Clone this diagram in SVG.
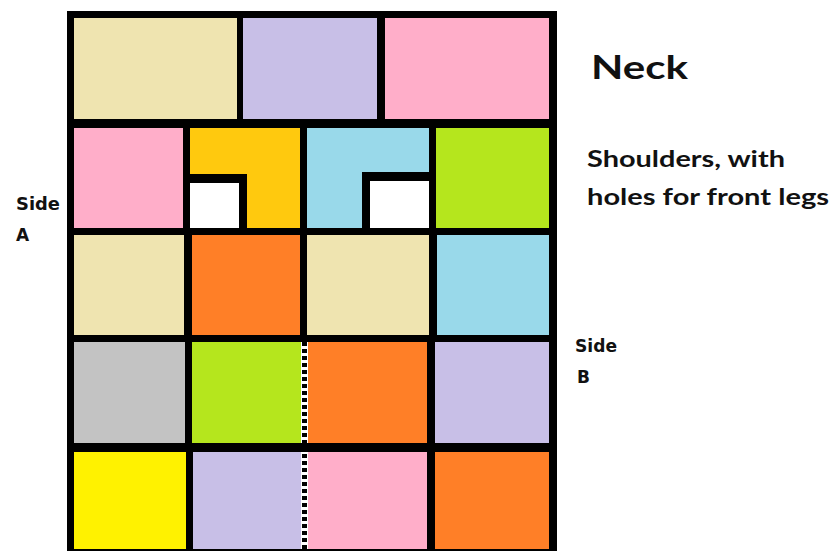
<svg xmlns="http://www.w3.org/2000/svg" width="830" height="551" viewBox="0 0 830 551">
<style>
.lbl{font-family:"Lato","Liberation Sans",sans-serif;font-weight:700;fill:#111}
.side{font-family:"DejaVu Sans","Liberation Sans",sans-serif;font-weight:700;fill:#111}
.beige{fill:#EFE4B0}.lav{fill:#C8BFE7}.pink{fill:#FFAEC9}.gold{fill:#FFC90E}.blue{fill:#99D9EA}
.green{fill:#B5E61D}.orange{fill:#FF7F27}.gray{fill:#C3C3C3}.yellow{fill:#FFF200}.white{fill:#FFFFFF}.blk{fill:#000}
</style>
<rect width="830" height="551" fill="#fff"/>
<g id="frame"><rect class="blk" x="67" y="11" width="490" height="545"/></g>
<g id="row1">
<g id="neck-1"><rect class="beige" x="74" y="18" width="163" height="101"/></g>
<g id="neck-2"><rect class="lav" x="243" y="18" width="134" height="101"/></g>
<g id="neck-3"><rect class="pink" x="385" y="18" width="164" height="101"/></g>
</g>
<g id="row2">
<g id="sh-1"><rect class="pink" x="74" y="128" width="109" height="100"/></g>
<g id="sh-2"><rect class="gold" x="190" y="128" width="110" height="100"/><rect class="blk" x="190" y="174" width="57" height="54"/><rect class="white" x="190" y="183" width="49" height="45"/></g>
<g id="sh-3"><rect class="blue" x="307" y="128" width="122" height="100"/><rect class="blk" x="362" y="172" width="67" height="56"/><rect class="white" x="370" y="181" width="59" height="47"/></g>
<g id="sh-4"><rect class="green" x="436" y="128" width="113" height="100"/></g>
</g>
<g id="row3">
<g id="r3-1"><rect class="beige" x="74" y="235" width="110" height="100"/></g>
<g id="r3-2"><rect class="orange" x="192" y="235" width="108" height="100"/></g>
<g id="r3-3"><rect class="beige" x="307" y="235" width="122" height="100"/></g>
<g id="r3-4"><rect class="blue" x="437" y="235" width="112" height="100"/></g>
</g>
<g id="row4">
<g id="r4-1"><rect class="gray" x="74" y="342" width="111" height="101"/></g>
<g id="r4-2"><rect class="green" x="192" y="342" width="109" height="101"/></g>
<g id="r4-3"><rect class="orange" x="308" y="342" width="119" height="101"/></g>
<g id="r4-4"><rect class="lav" x="435" y="342" width="114" height="101"/></g>
</g>
<g id="row5">
<g id="r5-1"><rect class="yellow" x="74" y="452" width="112" height="97"/></g>
<g id="r5-2"><rect class="lav" x="193" y="452" width="108" height="97"/></g>
<g id="r5-3"><rect class="pink" x="308" y="452" width="119" height="97"/></g>
<g id="r5-4"><rect class="orange" x="435" y="452" width="114" height="97"/></g>
</g>
<g id="connectors">
<rect class="white" x="301" y="342" width="7" height="101"/>
<rect class="white" x="301" y="452" width="7" height="97"/>
<line x1="304.5" y1="342" x2="304.5" y2="551" stroke="#000" stroke-width="5" stroke-dasharray="4 3"/>
</g>
<g id="labels">
<text class="lbl" x="591" y="79" font-size="33" textLength="97" lengthAdjust="spacingAndGlyphs">Neck</text>
<text class="lbl" x="587" y="167" font-size="23" textLength="198" lengthAdjust="spacingAndGlyphs">Shoulders, with</text>
<text class="lbl" x="587" y="205" font-size="23" textLength="242" lengthAdjust="spacingAndGlyphs">holes for front legs</text>
<text class="side" x="16" y="210" font-size="17" textLength="44" lengthAdjust="spacingAndGlyphs">Side</text>
<text class="side" x="16" y="241" font-size="17">A</text>
<text class="side" x="575" y="352" font-size="17" textLength="42" lengthAdjust="spacingAndGlyphs">Side</text>
<text class="side" x="577" y="383" font-size="17">B</text>
</g>
</svg>
